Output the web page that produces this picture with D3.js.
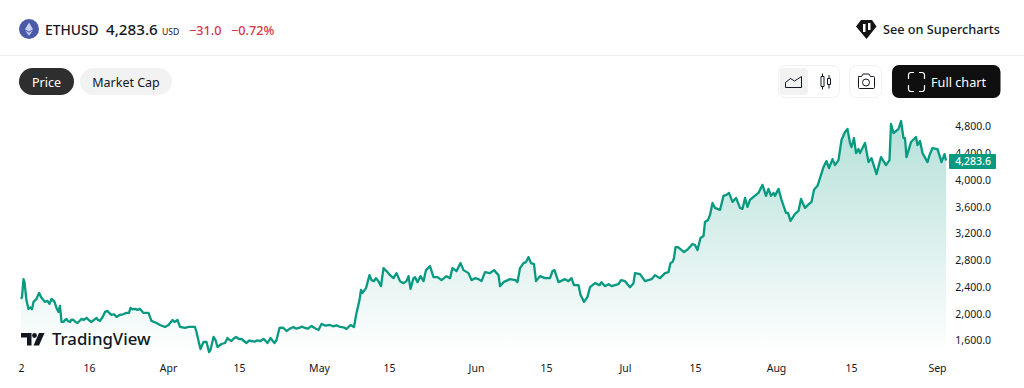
<!DOCTYPE html>
<html>
<head>
<meta charset="utf-8">
<script src="https://cdn.jsdelivr.net/npm/d3@7"></script>
<style>
    html, body { margin: 0; background: #fff; overflow: hidden; }
    text { font-family: "Noto Sans", sans-serif; fill: #131722; }
    .axis text { font-size: 10.5px; }
    .axis path, .axis line { display: none; }
</style>
</head>
<body>
<div id="chart"></div>
<script>
// Days since 2 March, row by row with the prices below.
const days = [
    0, .2, .5, .7, 1.1, 1.5, 1.9, 2.2, 2.5, 3.1, 3.6, 4.1, 4.8, 5.3, 5.7, 6.1, 6.7, 7.1, 7.5, 7.8,
    8.1, 8.5, 8.8, 9.1, 9.4, 9.8, 10.1, 10.5, 10.9, 11.3, 11.7, 12.1, 12.6, 13.1, 13.6, 14.1, 14.6, 15.1, 15.4, 15.8,
    16.3, 16.8, 17.3, 17.7, 18.1, 18.6, 19.1, 19.5, 19.8, 20.4, 21.1, 21.6, 21.9, 22.3, 22.8, 23.3,
    23.8, 24.5, 25.5, 26.1, 27.1, 27.8, 28.8, 29.5, 30.3, 30.7, 31.3, 31.8, 32.8, 33.5, 34.8, 35.1, 35.6, 35.9, 36.5, 37.1,
    37.6, 37.9, 38.5, 38.9, 39.3, 40.1, 40.8, 41.3, 41.7, 42.1, 42.5, 43, 43.6, 44.1, 44.6, 45.1, 45.6, 46.1, 46.7, 47.3,
    47.9, 48.5, 48.9, 49.3, 49.9, 50.3, 50.7, 51.1, 51.7, 52.1, 52.5, 53.1, 53.8, 54.5, 55, 55.6, 56.2, 56.8, 57.4, 58.1,
    58.8, 59.5, 60.1, 60.9, 61.8, 62.4, 63.1, 63.8, 64.5, 65.1, 65.9, 66.6, 67.1, 67.7, 68, 68.3, 69, 69.7, 70.1,
    70.6, 71, 71.5, 72, 72.5, 73.1, 73.8, 74.5, 75.1, 75.8, 76.5, 77.1, 77.5, 77.9, 78.5, 78.8, 79.3, 79.9, 80.5, 81,
    81.8, 82.5, 83.3, 84.1, 85.1, 85.8, 86.3, 87.1, 87.9, 88.5, 89.5, 90.1, 90.8, 91.5, 92.1, 92.8, 93.8, 94.6, 95.5, 95.8,
    96.5, 97.8, 98.9, 99.3, 99.8, 100.5, 101, 101.5, 102, 102.6, 103, 103.8, 104.8, 105.8, 106.3, 106.7, 107.5, 108.8, 109.5, 110.1,
    110.6, 111.5, 111.9, 112.6, 113.3, 113.8, 114.8, 115.7, 116.1, 116.8, 117.5, 118.1, 119.5, 120, 120.8, 121.8, 122.5, 122.8, 123.8, 124.8,
    126.1, 126.8, 127.8, 128.8, 129.5, 129.9, 130.3, 130.6, 130.9, 131.4, 132.6, 133.4, 134.3, 134.8, 135.3, 135.9, 136.5, 136.8, 137.4, 137.8,
    138.3, 138.8, 139.8, 140.5, 141.1, 141.6, 142.3, 143, 143.8, 144.3, 144.8, 145.3, 145.8, 146.5, 147.5, 148.3, 149, 149.5, 150, 150.5,
    150.8, 151.5, 152.1, 153, 153.4, 153.9, 154.8, 155.5, 156, 156.8, 157.4, 158.1, 158.6, 159.3, 159.8, 160.5, 161.1, 161.6, 162.3, 162.8,
    163.5, 164.1, 164.8, 165.3, 165.8, 166.1, 166.6, 167, 167.5, 167.8, 168.8, 169.5, 170.1, 171.1, 172, 173, 173.7, 174, 174.5, 175.5,
    176, 176.5, 176.8, 177.1, 178, 179, 179.3, 179.8, 180.3, 181.3, 181.7, 182.3, 183.3, 183.8, 184.1, 184.7, 185
];

const prices = [
    2215, 2240, 2510, 2465, 2190, 2065, 2085, 2060, 2170, 2215, 2305, 2230, 2170, 2185, 2140, 2215, 2170, 2080, 2020, 2110,
    1870, 1870, 1900, 1915, 1880, 1870, 1905, 1900, 1870, 1855, 1885, 1915, 1900, 1930, 1895, 1870, 1900, 1930, 1900, 1885,
    1940, 2020, 2035, 2000, 1975, 1985, 1945, 1965, 1975, 1985, 2005, 2005, 2080, 2060, 2065, 2050,
    2065, 2005, 2005, 1885, 1855, 1825, 1795, 1825, 1900, 1870, 1900, 1795, 1780, 1795, 1795, 1720, 1555, 1465, 1570, 1570,
    1420, 1450, 1645, 1600, 1495, 1540, 1555, 1630, 1600, 1585, 1620, 1645, 1615, 1615, 1585, 1555, 1590, 1585, 1575, 1595,
    1585, 1615, 1590, 1555, 1630, 1590, 1555, 1600, 1780, 1785, 1780, 1735, 1770, 1795, 1770, 1780, 1800, 1780, 1770, 1810,
    1775, 1750, 1840, 1815, 1825, 1805, 1820, 1795, 1790, 1765, 1825, 1795, 2005, 2200, 2350, 2305, 2375, 2570, 2495,
    2480, 2525, 2480, 2405, 2675, 2630, 2570, 2525, 2600, 2480, 2450, 2480, 2555, 2365, 2525, 2540, 2465, 2555, 2480, 2645,
    2705, 2540, 2540, 2495, 2555, 2525, 2675, 2630, 2750, 2645, 2600, 2495, 2525, 2510, 2480, 2615, 2600, 2645, 2570, 2405,
    2465, 2510, 2495, 2465, 2675, 2750, 2765, 2840, 2750, 2735, 2480, 2555, 2525, 2525, 2630, 2645, 2465, 2510, 2480, 2525,
    2420, 2420, 2275, 2170, 2245, 2390, 2450, 2420, 2465, 2405, 2435, 2405, 2435, 2495, 2480, 2390, 2450, 2600, 2585, 2480,
    2510, 2570, 2525, 2600, 2615, 2750, 2765, 2825, 2990, 2990, 2915, 2960, 3035, 3020, 2945, 3125, 3155, 3365, 3395, 3470,
    3650, 3575, 3545, 3755, 3770, 3800, 3665, 3725, 3575, 3560, 3725, 3590, 3695, 3740, 3800, 3920, 3755, 3860, 3755, 3800,
    3755, 3860, 3695, 3500, 3500, 3380, 3485, 3530, 3710, 3575, 3620, 3665, 3845, 3905, 4020, 4185, 4275, 4170, 4305, 4215,
    4290, 4590, 4710, 4755, 4545, 4485, 4620, 4395, 4455, 4395, 4545, 4260, 4320, 4080, 4335, 4215, 4290, 4830, 4695, 4755,
    4875, 4620, 4620, 4335, 4560, 4635, 4515, 4575, 4395, 4260, 4365, 4470, 4455, 4335, 4260, 4380, 4283.6
];

const tickDays = [0, 13.6, 29.4, 43.6, 59.6, 73.6, 91, 105, 120.8, 134.8, 151, 166, 183.2];
const tickLabels = ["2", "16", "Apr", "15", "May", "15", "Jun", "15", "Jul", "15", "Aug", "15", "Sep"];
const priceTicks = [4800, 4400, 4000, 3600, 3200, 2800, 2400, 2000, 1600];
const lastPrice = 4283.6;

const WIDTH = 1024;
const HEIGHT = 388;
const GREEN = "#089981";
const AREA_BOTTOM = 355;

const svg = d3.select("#chart")
    .append("svg")
    .attr("width", WIDTH)
    .attr("height", HEIGHT)
    .style("display", "block");

const xScale = d3.scaleLinear().domain([0, 185]).range([21, 946]);
const yScale = d3.scaleLinear().domain([1600, 4800]).range([340, 126]);

const points = days.map((d, i) => [d, prices[i]]);

// Area fades out towards the bottom of the pane.
const gradient = svg.append("defs").append("linearGradient")
    .attr("id", "area-fill")
    .attr("gradientUnits", "userSpaceOnUse")
    .attr("x1", 0).attr("x2", 0)
    .attr("y1", 121).attr("y2", AREA_BOTTOM);
gradient.append("stop").attr("offset", 0).attr("stop-color", GREEN).attr("stop-opacity", 0.3);
gradient.append("stop").attr("offset", 1).attr("stop-color", GREEN).attr("stop-opacity", 0);

svg.append("path")
    .datum(points)
    .attr("fill", "url(#area-fill)")
    .attr("d", d3.area().x(d => xScale(d[0])).y0(AREA_BOTTOM).y1(d => yScale(d[1])));

svg.append("path")
    .datum(points)
    .attr("fill", "none")
    .attr("stroke", GREEN)
    .attr("stroke-width", 2.3)
    .attr("stroke-linejoin", "round")
    .attr("d", d3.line().x(d => xScale(d[0])).y(d => yScale(d[1])));

svg.append("g")
    .attr("class", "axis")
    .attr("transform", "translate(0, 368)")
    .call(d3.axisBottom(xScale).tickValues(tickDays).tickSize(0).tickPadding(0)
        .tickFormat((d, i) => tickLabels[i]))
    .selectAll("text")
    .attr("y", 0)
    .attr("dy", "0.35em");

svg.append("g")
    .attr("class", "axis")
    .attr("transform", "translate(991, 0.6)")
    .call(d3.axisLeft(yScale).tickValues(priceTicks).tickSize(0).tickPadding(0)
        .tickFormat(d3.format(",.1f")));

// Last price tag sits over the 4,400 label, as in the original.
svg.append("rect")
    .attr("x", 949)
    .attr("y", yScale(lastPrice) - 6.5)
    .attr("width", 47)
    .attr("height", 15)
    .attr("rx", 1)
    .attr("fill", GREEN);
svg.append("text")
    .attr("x", 991)
    .attr("y", yScale(lastPrice) + 1)
    .attr("dy", "0.35em")
    .attr("text-anchor", "end")
    .style("font-size", "10.5px")
    .style("font-weight", 500)
    .style("fill", "#fff")
    .text(d3.format(",.1f")(lastPrice));

// Header row
const label = (x, y, text, size, weight, color, anchor) => svg.append("text")
    .attr("x", x).attr("y", y)
    .attr("text-anchor", anchor || "start")
    .style("font-size", `${size}px`)
    .style("font-weight", weight)
    .style("fill", color)
    .text(text);

svg.append("circle").attr("cx", 29).attr("cy", 29).attr("r", 10).attr("fill", "#4a5aa8");
svg.append("path").attr("d", "M29 22.5l-4 6.8 4 2.3 4-2.3zM25 30.3l4 5.5 4-5.5-4 2.4z").attr("fill", "#c5d0f0");
label(45, 34.5, "ETHUSD", 13.8, 500, "#131722");
label(106, 34.5, "4,283.6", 15.2, 500, "#131722");
label(162, 34.5, "USD", 8.6, 400, "#131722");
label(189, 34.5, "−31.0", 12.7, 500, "#d8364b");
label(231, 34.5, "−0.72%", 12.7, 500, "#d8364b");

svg.append("path")
    .attr("d", "M861 20h11l4.5 6.5L866.5 39 856 26.5z")
    .attr("fill", "#131313");
svg.append("path")
    .attr("d", "M863 24h2.5v8h-2.5zM868 23h2.5v7H868z")
    .attr("fill", "#fff");
label(883, 34, "See on Supercharts", 12.7, 500, "#131722");

svg.append("line")
    .attr("x1", 0).attr("x2", WIDTH)
    .attr("y1", 55.5).attr("y2", 55.5)
    .attr("stroke", "#f0f0f0");

// Tabs and toolbar
svg.append("rect").attr("x", 19).attr("y", 68).attr("width", 55).attr("height", 27).attr("rx", 13.5).attr("fill", "#2e2e2e");
label(46.5, 86.5, "Price", 12.5, 400, "#fff", "middle");
svg.append("rect").attr("x", 80).attr("y", 68).attr("width", 92).attr("height", 27).attr("rx", 13.5).attr("fill", "#f2f2f2");
label(126, 86.5, "Market Cap", 12.5, 400, "#131722", "middle");

svg.append("rect").attr("x", 778.5).attr("y", 65.5).attr("width", 61).attr("height", 32).attr("rx", 7)
    .attr("fill", "#fff").attr("stroke", "#f0f0f0");
svg.append("rect").attr("x", 780).attr("y", 68).attr("width", 28).attr("height", 27).attr("rx", 4).attr("fill", "#f2f2f2");
svg.append("path")
    .attr("d", "M785.5 87.5v-5l5-4 4 2.5 7-4.5v11z")
    .attr("fill", "none").attr("stroke", "#131722");
svg.append("path")
    .attr("d", "M821 76.5h3v10h-3zM822.5 73.5v3M822.5 86.5v3M827.5 78.5h3v6h-3zM829 75v3.5M829 84.5v4")
    .attr("fill", "none").attr("stroke", "#131722");

svg.append("rect").attr("x", 849.5).attr("y", 65.5).attr("width", 32).attr("height", 32).attr("rx", 7)
    .attr("fill", "#fff").attr("stroke", "#f0f0f0");
svg.append("path")
    .attr("d", "M858.5 76.5h3l1.5-2.5h6l1.5 2.5h3a1 1 0 0 1 1 1v10a1 1 0 0 1-1 1h-14a1 1 0 0 1-1-1v-10a1 1 0 0 1 1-1z")
    .attr("fill", "none").attr("stroke", "#131722");
svg.append("circle").attr("cx", 866).attr("cy", 82.5).attr("r", 3.5).attr("fill", "none").attr("stroke", "#131722");

svg.append("rect").attr("x", 892).attr("y", 65).attr("width", 108.5).attr("height", 33).attr("rx", 7).attr("fill", "#0f0f0f");
svg.append("path")
    .attr("d", "M908.5 79v-4a2.5 2.5 0 0 1 2.5-2.5h3M919 72.5h3a2.5 2.5 0 0 1 2.5 2.5v4M924.5 85v4a2.5 2.5 0 0 1-2.5 2.5h-3M914 91.5h-3a2.5 2.5 0 0 1-2.5-2.5v-4")
    .attr("fill", "none").attr("stroke", "#fff").attr("stroke-width", 1.2);
label(931, 86.5, "Full chart", 12.7, 400, "#fff");

// TradingView watermark
svg.append("path")
    .attr("d", "M21 333h10.5v12.5h-4.5v-8H21zM44.5 333l-5.5 12.5h-5.5l5.5-12.5z")
    .attr("fill", "#131722");
svg.append("circle").attr("cx", 34.5).attr("cy", 335.5).attr("r", 2.4).attr("fill", "#131722");
label(52, 344.5, "TradingView", 16.8, 500, "#131722");
</script>
</body>
</html>
